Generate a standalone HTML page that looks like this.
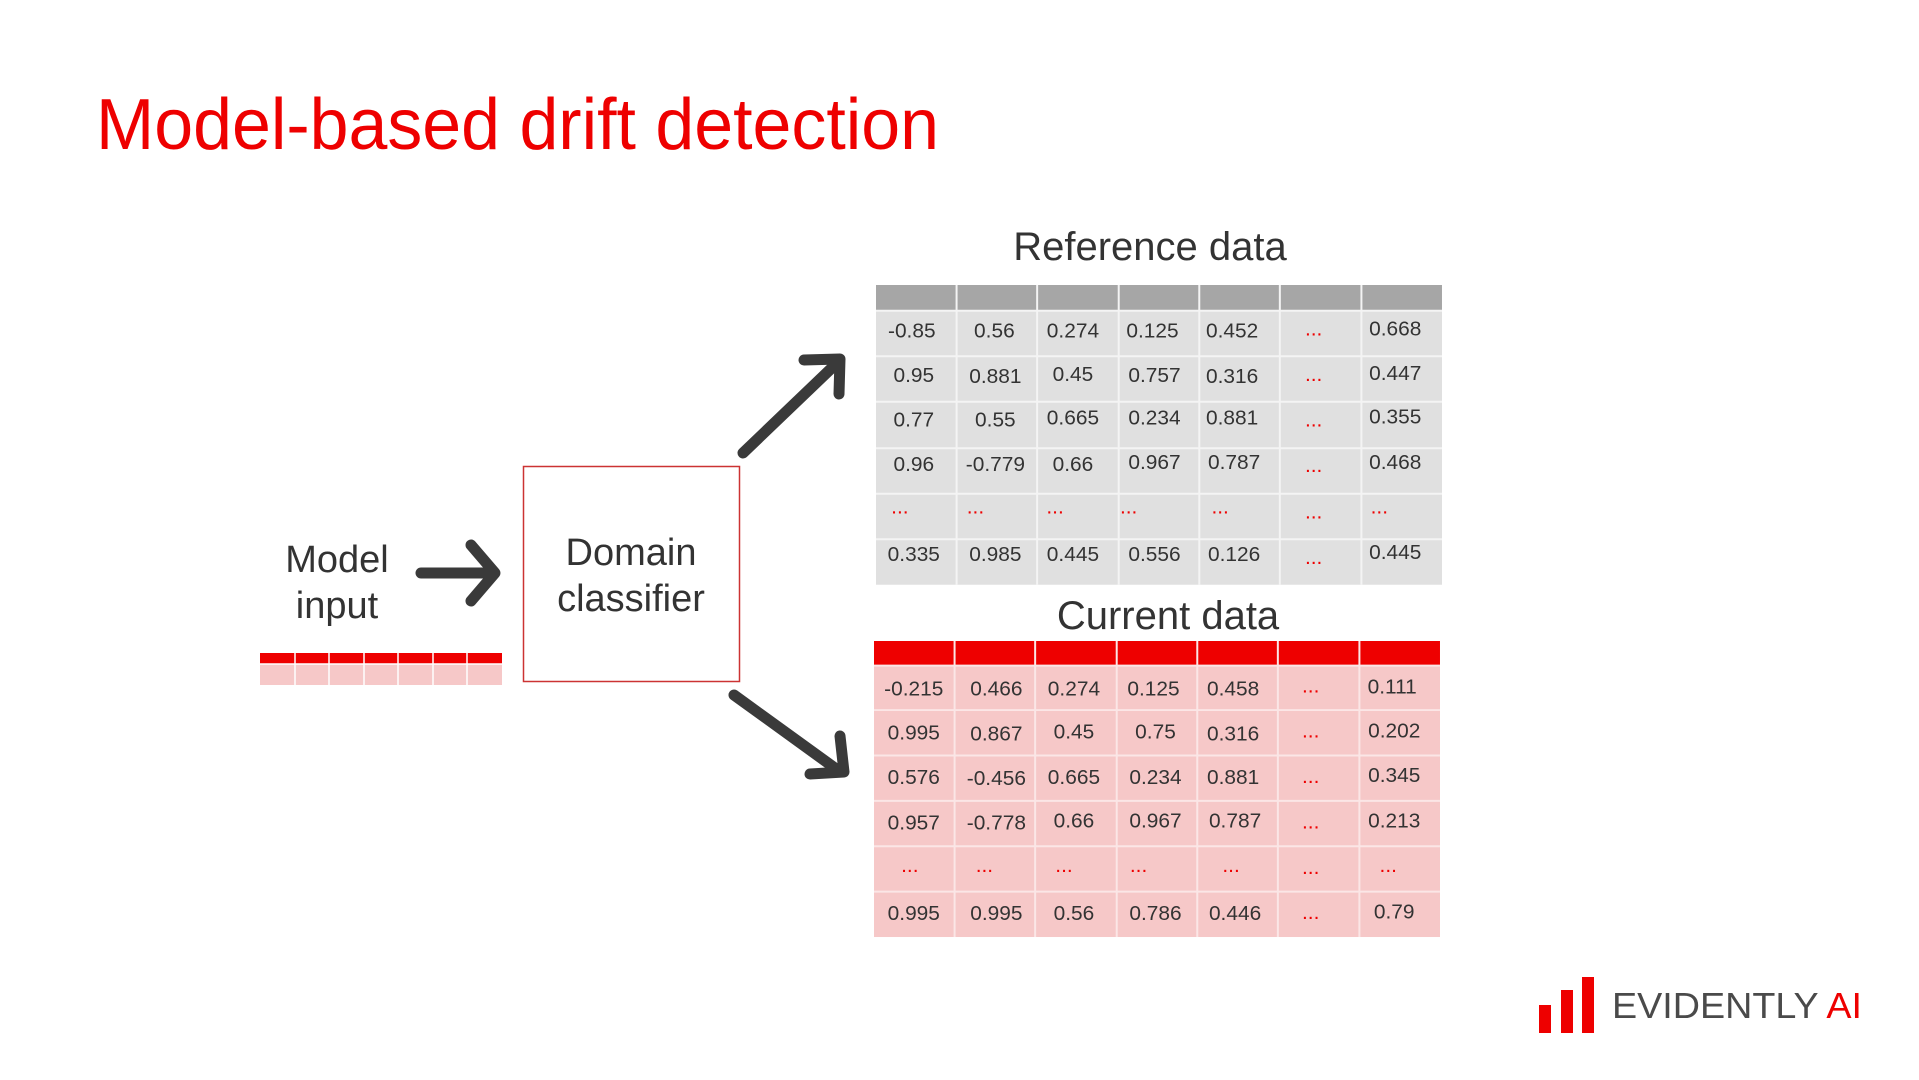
<!DOCTYPE html>
<html><head><meta charset="utf-8"><style>
html,body{margin:0;padding:0;background:#fff;}
svg{display:block;font-family:"Liberation Sans",Arial,sans-serif;}
</style></head><body>
<svg width="1919" height="1080" viewBox="0 0 1919 1080" xmlns="http://www.w3.org/2000/svg">
<text x="96" y="149" font-size="72" fill="#ee0000" textLength="843" lengthAdjust="spacingAndGlyphs">Model-based drift detection</text>

<text x="1150" y="260" font-size="40" fill="#333" text-anchor="middle">Reference data</text>
<g id="ref" transform="translate(876,285) scale(0.9947,0.9892) translate(-880,-285)">
<rect x="880" y="285" width="569" height="26" fill="#a6a6a6"/>
<rect x="880" y="311" width="569" height="277" fill="#e0e0e0"/>
<g stroke="#f4f4f4" stroke-width="2">
<line x1="961" y1="285" x2="961" y2="588"/><line x1="1042" y1="285" x2="1042" y2="588"/><line x1="1124" y1="285" x2="1124" y2="588"/><line x1="1205" y1="285" x2="1205" y2="588"/><line x1="1286" y1="285" x2="1286" y2="588"/><line x1="1368" y1="285" x2="1368" y2="588"/>
<line x1="880" y1="311" x2="1449" y2="311"/><line x1="880" y1="357" x2="1449" y2="357"/><line x1="880" y1="403" x2="1449" y2="403"/><line x1="880" y1="450" x2="1449" y2="450"/><line x1="880" y1="496" x2="1449" y2="496"/><line x1="880" y1="542" x2="1449" y2="542"/>
</g>
<g font-size="21" fill="#333" text-anchor="middle">
<text x="916" y="338">-0.85</text><text x="999" y="338">0.56</text><text x="1078" y="338">0.274</text><text x="1158" y="338">0.125</text><text x="1238" y="338">0.452</text><text x="1402" y="336">0.668</text>
<text x="918" y="383">0.95</text><text x="1000" y="384">0.881</text><text x="1078" y="382">0.45</text><text x="1160" y="383">0.757</text><text x="1238" y="384">0.316</text><text x="1402" y="381">0.447</text>
<text x="918" y="428">0.77</text><text x="1000" y="428">0.55</text><text x="1078" y="426">0.665</text><text x="1160" y="426">0.234</text><text x="1238" y="426">0.881</text><text x="1402" y="425">0.355</text>
<text x="918" y="473">0.96</text><text x="1000" y="473">-0.779</text><text x="1078" y="473">0.66</text><text x="1160" y="471">0.967</text><text x="1240" y="471">0.787</text><text x="1402" y="471">0.468</text>
<text x="918" y="564">0.335</text><text x="1000" y="564">0.985</text><text x="1078" y="564">0.445</text><text x="1160" y="564">0.556</text><text x="1240" y="564">0.126</text><text x="1402" y="562">0.445</text>
</g>
<g font-size="21" fill="#ee0000" text-anchor="middle">
<text x="1320" y="336">...</text><text x="1320" y="382">...</text><text x="1320" y="428">...</text><text x="1320" y="474">...</text><text x="1320" y="521">...</text><text x="1320" y="567">...</text>
<text x="904" y="516">...</text><text x="980" y="516">...</text><text x="1060" y="516">...</text><text x="1134" y="516">...</text><text x="1226" y="516">...</text><text x="1386" y="516">...</text>
</g>
</g>

<text x="1168" y="629" font-size="40" fill="#333" text-anchor="middle">Current data</text>
<g id="cur" transform="translate(874,641) scale(0.9947,0.9867) translate(-877,-641)">
<rect x="877" y="641" width="569" height="25" fill="#ee0000"/>
<rect x="877" y="666" width="569" height="275" fill="#f6c8c8"/>
<g stroke="#fbe6e6" stroke-width="2">
<line x1="958" y1="641" x2="958" y2="941"/><line x1="1039" y1="641" x2="1039" y2="941"/><line x1="1121" y1="641" x2="1121" y2="941"/><line x1="1202" y1="641" x2="1202" y2="941"/><line x1="1283" y1="641" x2="1283" y2="941"/><line x1="1365" y1="641" x2="1365" y2="941"/>
<line x1="877" y1="666" x2="1446" y2="666"/><line x1="877" y1="711" x2="1446" y2="711"/><line x1="877" y1="757" x2="1446" y2="757"/><line x1="877" y1="803" x2="1446" y2="803"/><line x1="877" y1="849" x2="1446" y2="849"/><line x1="877" y1="895" x2="1446" y2="895"/>
</g>
<g font-size="21" fill="#333" text-anchor="middle">
<text x="917" y="696">-0.215</text><text x="1000" y="696">0.466</text><text x="1078" y="696">0.274</text><text x="1158" y="696">0.125</text><text x="1238" y="696">0.458</text><text x="1398" y="694">0.111</text>
<text x="917" y="741">0.995</text><text x="1000" y="742">0.867</text><text x="1078" y="740">0.45</text><text x="1160" y="740">0.75</text><text x="1238" y="742">0.316</text><text x="1400" y="739">0.202</text>
<text x="917" y="786">0.576</text><text x="1000" y="787">-0.456</text><text x="1078" y="786">0.665</text><text x="1160" y="786">0.234</text><text x="1238" y="786">0.881</text><text x="1400" y="784">0.345</text>
<text x="917" y="832">0.957</text><text x="1000" y="832">-0.778</text><text x="1078" y="830">0.66</text><text x="1160" y="830">0.967</text><text x="1240" y="830">0.787</text><text x="1400" y="830">0.213</text>
<text x="917" y="924">0.995</text><text x="1000" y="924">0.995</text><text x="1078" y="924">0.56</text><text x="1160" y="924">0.786</text><text x="1240" y="924">0.446</text><text x="1400" y="922">0.79</text>
</g>
<g font-size="21" fill="#ee0000" text-anchor="middle">
<text x="1316" y="693">...</text><text x="1316" y="739">...</text><text x="1316" y="785">...</text><text x="1316" y="831">...</text><text x="1316" y="877">...</text><text x="1316" y="923">...</text>
<text x="913" y="875">...</text><text x="988" y="875">...</text><text x="1068" y="875">...</text><text x="1143" y="875">...</text><text x="1236" y="875">...</text><text x="1394" y="875">...</text>
</g>
</g>

<!-- Model input -->
<text x="337" y="572" font-size="38" fill="#333" text-anchor="middle">Model</text>
<text x="337" y="618" font-size="38" fill="#333" text-anchor="middle">input</text>
<rect x="260" y="653" width="242" height="11" fill="#ee0000"/>
<rect x="260" y="664" width="242" height="21" fill="#f6c8c8"/>
<g stroke="#fff" stroke-width="1.5">
<line x1="295" y1="653" x2="295" y2="685"/><line x1="329" y1="653" x2="329" y2="685"/><line x1="364" y1="653" x2="364" y2="685"/><line x1="398" y1="653" x2="398" y2="685"/><line x1="433" y1="653" x2="433" y2="685"/><line x1="467" y1="653" x2="467" y2="685"/>
<line x1="260" y1="664" x2="502" y2="664"/>
</g>

<g stroke="#3a3a3a" stroke-width="11" stroke-linecap="round" stroke-linejoin="round" fill="none">
<line x1="421" y1="573" x2="494" y2="573"/>
<polyline points="471,545 495,573 471,601"/>
<line x1="743" y1="453" x2="838" y2="362"/>
<polyline points="804,360 840,359 839,394"/>
<line x1="734" y1="695" x2="839" y2="771"/>
<polyline points="810,774 844,772 840,736"/>
</g>

<rect x="523.5" y="466.5" width="216" height="215" fill="none" stroke="#cc3333" stroke-width="1.5"/>
<text x="631" y="565" font-size="38" fill="#333" text-anchor="middle">Domain</text>
<text x="631" y="611" font-size="38" fill="#333" text-anchor="middle">classifier</text>

<rect x="1539" y="1005" width="12" height="28" fill="#ee0000"/>
<rect x="1561" y="990" width="12" height="43" fill="#ee0000"/>
<rect x="1582" y="977" width="12" height="56" fill="#ee0000"/>
<text x="1612" y="1018" font-size="36" fill="#4a4a4a" textLength="250" lengthAdjust="spacingAndGlyphs">EVIDENTLY <tspan fill="#ee0000">AI</tspan></text>
</svg>
</body></html>
